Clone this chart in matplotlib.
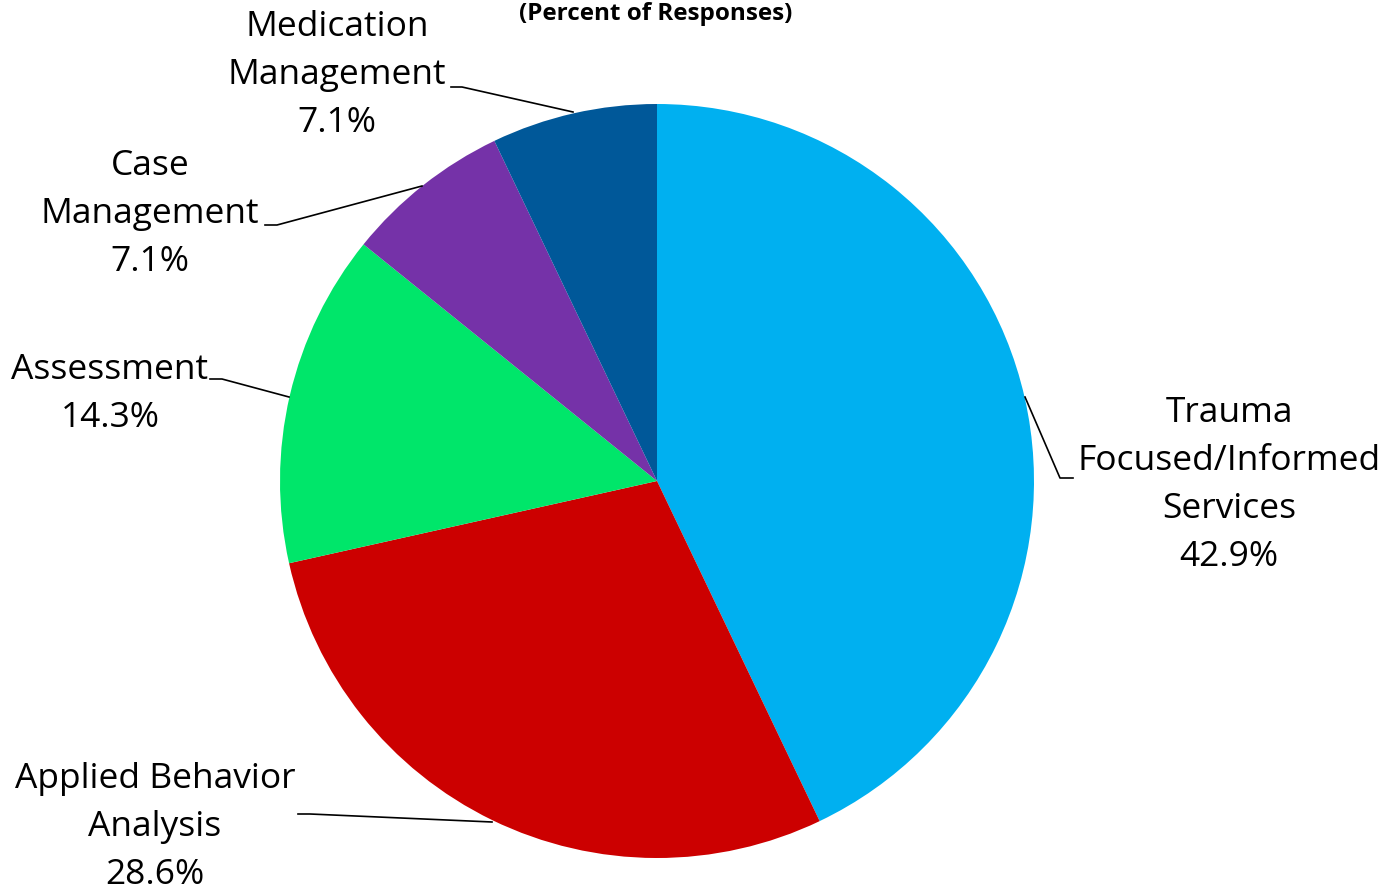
import matplotlib.pyplot as plt

# data
categories = ["Trauma\nFocused/Informed\nServices", "Applied Behavior\nAnalysis",
              "Assessment", "Case\nManagement", "Medication\nManagement"]
percents = [42.9, 28.6, 14.3, 7.1, 7.1]
colors = ["#00B0F0", "#CC0000", "#00E66A", "#7532A8", "#005899"]

W, H = 1389, 892
CX, CY, R = 657, 481, 377

plt.rcParams['font.family'] = ['Open Sans', 'DejaVu Sans']

fig = plt.figure(figsize=(W / 100, H / 100), dpi=100)
ax = fig.add_axes([(CX - R) / W, (H - CY - R) / H, 2 * R / W, 2 * R / H])
ax.pie(percents, colors=colors, startangle=90, counterclock=False, radius=1)
ax.set_xlim(-1, 1)
ax.set_ylim(-1, 1)
ax.set_aspect('equal')
ax.axis('off')


def d(px, py):
    # pixel position -> data coords of the pie axes
    return ((px - CX) / R, (CY - py) / R)


# label centres (pixel) and leader polylines (pixel)
label_pos = [(1229, 485), (155, 827), (110, 394), (150, 214), (337, 75)]
leaders = [
    [(1025, 397), (1060, 478), (1073, 478)],
    [(492, 822), (310, 814), (298, 814)],
    [(289, 397), (222, 379), (210, 379)],
    [(422, 186), (277, 225), (265, 225)],
    [(573, 112), (462, 87), (451, 87)],
]

for name, pct, (lx, ly), pts in zip(categories, percents, label_pos, leaders):
    x, y = d(lx, ly)
    ax.text(x, y, f"{name}\n{pct:.1f}%", ha='center', va='center', fontsize=25.5,
            linespacing=1.54, clip_on=False)
    xs, ys = zip(*[d(px, py) for px, py in pts])
    ax.plot(xs, ys, color='black', lw=1.2, clip_on=False)

fig.text(656 / W, 1 - 14 / H, "(Percent of Responses)", ha='center', va='center',
         fontsize=17.5, fontweight='bold')

fig.savefig("out.png", dpi=100)
